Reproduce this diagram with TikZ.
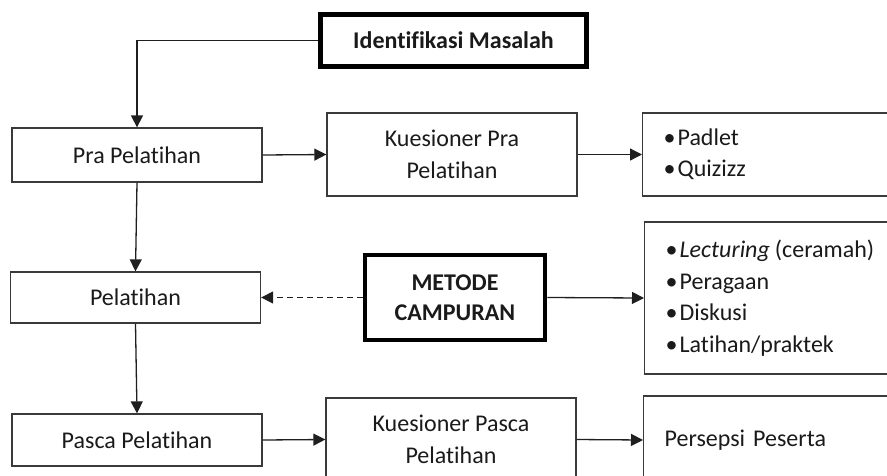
\documentclass[tikz,border=0pt]{standalone}
\usepackage{fontspec}
\setmainfont{Carlito}[Ligatures={NoCommon}]
\usetikzlibrary{arrows.meta}
\definecolor{txt}{HTML}{1A1A1A}
\definecolor{ln}{HTML}{3A3A3A}
\begin{document}
\begin{tikzpicture}[x=1pt,y=-1pt,
  every node/.style={font=\fontsize{24}{31.5}\selectfont, text=txt},
  thinbox/.style={draw=ln, line width=1.3pt, rectangle, align=center, inner sep=0pt},
  thickbox/.style={draw=black, line width=5pt, rectangle, align=center, inner sep=0pt, font=\fontsize{24}{30}\selectfont\bfseries},
  listbox/.style={draw=ln, line width=1.3pt, rectangle, anchor=west, align=left, text width=236pt, inner xsep=21pt, inner ysep=0pt},
  conn/.style={draw=black!88, line width=1.3pt, -{Triangle[length=12pt,width=12pt]}},
]
\useasboundingbox (0,0) rectangle (887,475);
\clip (0,0) rectangle (887,475);

% main column
\node[thickbox, minimum width=266pt, minimum height=52pt] (id) at (453.5,40.5) {Identifikasi Masalah};
\node[thinbox, minimum width=250pt, minimum height=54pt] (pra) at (137,155) {Pra Pelatihan};
\node[thinbox, minimum width=250pt, minimum height=51pt] (pel) at (135.5,297.5) {Pelatihan};
\node[thinbox, minimum width=250pt, minimum height=52pt] (pasca) at (137,440) {Pasca Pelatihan};

% middle column
\node[thinbox, minimum width=250pt, minimum height=83pt] (kpra) at (452,154.5) {Kuesioner Pra\\Pelatihan};
\node[thickbox, line width=4.5pt, minimum width=180pt, minimum height=85pt] (met) at (455,297.5) {METODE\\CAMPURAN};
\node[thinbox, minimum width=250pt, minimum height=83pt] (kpasca) at (451,439.5) {Kuesioner Pasca\\Pelatihan};

% right column
\node[listbox, minimum height=83pt] (pad) at (642,154.5) {\textbullet\hspace{2pt}Padlet\\\textbullet\hspace{2pt}Quizizz};
\node[listbox, minimum height=152pt] (lec) at (644,298) {\textbullet\hspace{2pt}\textit{Lecturing}\hspace{5pt}(ceramah)\\\textbullet\hspace{2pt}Peragaan\\\textbullet\hspace{2pt}Diskusi\\\textbullet\hspace{2pt}Latihan/praktek};
\node[listbox, minimum height=88pt] (pers) at (643,440) {Persepsi Peserta};

% connectors
\draw[conn] (id.west) -| (pra.north);
\draw[conn] (pra.east) -- (kpra.west);
\draw[conn] (kpra.east) -- (pad.west);
\draw[conn] (pra.south) -- (pel.north);
\draw[conn, dash pattern=on 6pt off 4pt] (met.west) -- (pel.east);
\draw[conn] (met.east) -- (lec.west);
\draw[conn] (pel.south) -- (pasca.north);
\draw[conn] (pasca.east) -- (kpasca.west);
\draw[conn] (kpasca.east) -- (pers.west);
\end{tikzpicture}
\end{document}
